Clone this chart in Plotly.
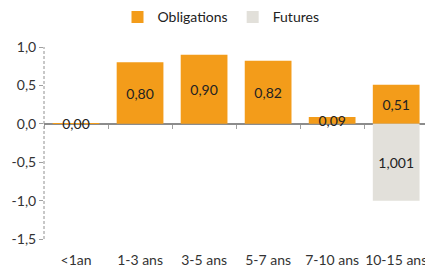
import plotly.graph_objects as go

categories = ["<1an", "1-3 ans", "3-5 ans", "5-7 ans", "7-10 ans", "10-15 ans"]
obligations = [0.003, 0.80, 0.90, 0.82, 0.09, 0.51]
obligations_text = ["0,00", "0,80", "0,90", "0,82", "0,09", "0,51"]
futures = [0, 0, 0, 0, 0, -1.001]
futures_text = ["", "", "", "", "", "1,001"]
y_ticks = [1.0, 0.5, 0.0, -0.5, -1.0, -1.5]
y_tick_labels = ["1,0", "0,5", "0,0", "-0,5", "-1,0", "-1,5"]

ORANGE = "#F39C1A"
GREY = "#E2E0DA"
FONT = "Lato"

fig = go.Figure()
fig.add_trace(go.Bar(
    x=categories, y=obligations, name="Obligations",
    marker=dict(color=ORANGE, line=dict(width=0)),
    text=obligations_text, textposition="inside", insidetextanchor="middle",
    constraintext="none", textangle=0,
    textfont=dict(color="#222222", size=14, family=FONT),
))
fig.add_trace(go.Bar(
    x=categories, y=futures, name="Futures",
    marker=dict(color=GREY, line=dict(width=0)),
    text=futures_text, textposition="inside", insidetextanchor="middle",
    constraintext="none", textangle=0,
    textfont=dict(color="#222222", size=14, family=FONT),
))
# helper trace for the boundary ticks on the zero line
fig.add_trace(go.Scatter(x=categories, y=[None] * len(categories), xaxis="x2",
                         mode="markers", showlegend=False, hoverinfo="skip"))

fig.update_layout(
    width=425, height=267,
    margin=dict(l=44, r=0, t=47, b=28, autoexpand=False),
    paper_bgcolor="white", plot_bgcolor="white",
    barmode="relative", bargap=0.27,
    font=dict(family=FONT, size=14, color="#333333"),
    legend=dict(orientation="h", xref="container", x=0.52, xanchor="center",
                yref="container", y=0.935, yanchor="middle",
                font=dict(size=14, color="#222222"), itemwidth=30,
                traceorder="normal"),
    xaxis=dict(type="category", categoryarray=categories, range=[-0.5, 5.45],
               showgrid=False, zeroline=False, showline=False,
               ticks="outside", ticklen=8, tickcolor="rgba(0,0,0,0)",
               tickfont=dict(size=14, color="#333333")),
    xaxis2=dict(type="category", categoryarray=categories, range=[-0.5, 5.45],
                overlaying="x", anchor="free", position=0.6,
                showgrid=False, zeroline=False, showline=False,
                showticklabels=False, ticks="outside", tickson="boundaries",
                ticklen=4, tickcolor="#A0A0A0", tickwidth=1),
    yaxis=dict(range=[-1.5, 1.0], tickvals=y_ticks, ticktext=y_tick_labels,
               showgrid=False, zeroline=True, zerolinecolor="#8C8C8C",
               zerolinewidth=2, showline=False,
               ticks="outside", ticklen=4, tickcolor="#A0A0A0",
               tickfont=dict(size=14, color="#333333")),
    shapes=[dict(type="line", xref="paper", yref="paper", x0=0, x1=0, y0=0, y1=1,
                 line=dict(color="#909090", width=1, dash="3px,2px"), layer="below")],
)

fig.write_html("out.html",
               config={"displayModeBar": False},
               post_script="document.body.style.margin='0';document.body.style.overflow='hidden';")
